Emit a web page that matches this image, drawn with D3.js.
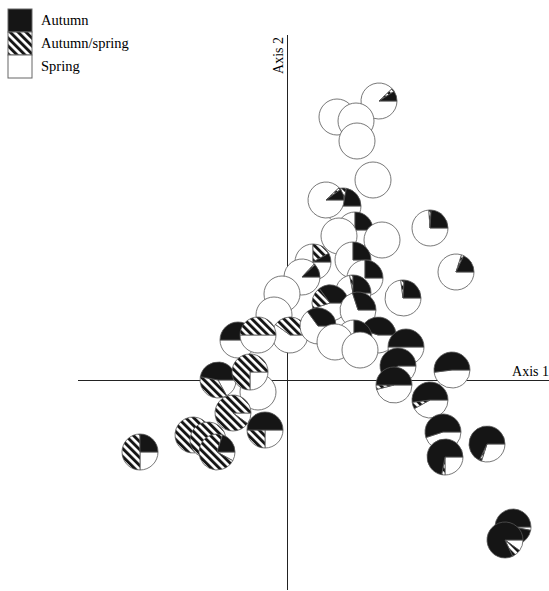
<!DOCTYPE html>
<meta charset="utf-8">
<style>

body {
  margin: 0;
  font-family: "Liberation Serif", "DejaVu Serif", serif;
  background: #fff;
}

svg {
	display: block;
}

path.slice {
	stroke: #555;
	stroke-width: 0.8px;
}

line.axis {
	stroke: #222;
	stroke-width: 1px;
}

</style>
<body>

<script src="https://d3js.org/d3.v7.min.js"></script>
<script>

// ordination scores of each site (axis 1, axis 2)
let axis1 = [0.92, 0.50, 0.69, 0.70, 0.86, 0.56, 0.39, 0.68, 0.52, 0.95,
	1.43, 1.69, 1.16, 0.26, 0.66, 0.78, 0.15, -0.05, 0.66, 0.43,
	0.71, -0.13, 0.03, 0.31, 0.91, 0.67, 0.48, 0.73, 1.19, 1.11,
	1.07, 1.65, 1.43, 1.56, 1.58, 2.00, 2.26, 2.18,
	-0.49, -0.29, -0.69, -0.29, -0.37, -0.54, -0.22, -0.94, -0.79, -0.70, -1.47];
let axis2 = [2.79, 2.63, 2.59, 2.39, 2.00, 1.74, 1.80, 1.50, 1.44, 1.40,
	1.52, 1.08, 0.82, 1.18, 1.20, 1.02, 1.03, 0.86, 0.87, 0.77,
	0.70, 0.65, 0.45, 0.54, 0.45, 0.42, 0.38, 0.30, 0.33, 0.14,
	-0.05, 0.10, -0.20, -0.52, -0.77, -0.64, -1.47, -1.60,
	0.40, 0.45, 0.00, -0.12, 0.08, -0.33, -0.50, -0.55, -0.60, -0.72, -0.72];

// share of sampled plants in each phenology class
let autumn = [0.09, 0, 0, 0, 0, 0.22, 0.10, 0.25, 0, 0,
	0.24, 0.18, 0.24, 0.08, 0.25, 0.25, 0.12, 0, 0.25, 0.35,
	0.30, 0, 0, 0.35, 0.45, 0.25, 0, 0, 0.50, 0.60,
	0.50, 0.52, 0.52, 0.55, 0.72, 0.68, 0.97, 0.82,
	0.50, 0, 0.47, 0, 0, 0, 0.50, 0, 0, 0.20, 0.25];
let autumnSpring = [0.03, 0, 0, 0, 0, 0.05, 0.02, 0, 0, 0,
	0.02, 0.02, 0.03, 0.17, 0, 0, 0.01, 0, 0.03, 0.20,
	0, 0, 0.40, 0, 0, 0, 0, 0, 0, 0,
	0.04, 0, 0.06, 0, 0.03, 0.02, 0, 0.08,
	0, 0.50, 0.36, 0, 0.75, 0.90, 0.25, 0.97, 0.95, 0.72, 0.50];
let spring = [0.88, 1, 1, 1, 1, 0.73, 0.88, 0.75, 1, 1,
	0.74, 0.80, 0.73, 0.75, 0.75, 0.75, 0.87, 1, 0.72, 0.45,
	0.70, 1, 0.60, 0.65, 0.55, 0.75, 1, 1, 0.50, 0.40,
	0.46, 0.48, 0.42, 0.45, 0.25, 0.30, 0.03, 0.10,
	0.50, 0.50, 0.17, 1, 0.25, 0.10, 0.25, 0.03, 0.05, 0.08, 0.25];

let classes = ["Autumn", "Autumn/spring", "Spring"];

let width = 549,
	height = 591,
	radius = 18;

let svg = d3.select("body")
	.append("svg")
	.attr("width", width)
	.attr("height", height);

let hatch = svg.append("defs")
	.append("pattern")
	.attr("id", "hatch")
	.attr("patternUnits", "userSpaceOnUse")
	.attr("width", 5.6)
	.attr("height", 5.6)
	.attr("patternTransform", "rotate(-45)");
hatch.append("rect")
	.attr("width", 5.6)
	.attr("height", 5.6)
	.attr("fill", "#fff");
hatch.append("rect")
	.attr("width", 2.9)
	.attr("height", 5.6)
	.attr("fill", "#151515");

let fill = d3.scaleOrdinal()
	.domain(classes)
	.range(["#151515", "url(#hatch)", "#fff"]);

let x = d3.scaleLinear()
	.domain([-2.09, 2.62])
	.range([78, 549]);

let y = d3.scaleLinear()
	.domain([-2.1, 3.45])
	.range([590, 35]);

/* ------- AXES -------*/
svg.append("line")
	.attr("class", "axis")
	.attr("x1", x(-2.09)).attr("x2", x(2.62))
	.attr("y1", y(0) + 0.5).attr("y2", y(0) + 0.5);

svg.append("line")
	.attr("class", "axis")
	.attr("x1", x(0) + 0.5).attr("x2", x(0) + 0.5)
	.attr("y1", y(3.45)).attr("y2", y(-2.1));

svg.append("text")
	.attr("x", x(2.62))
	.attr("y", y(0) - 4)
	.attr("text-anchor", "end")
	.style("font-size", "14px")
	.text("Axis 1");

svg.append("text")
	.attr("transform", "translate(" + (x(0) - 4) + "," + (y(3.45) + 2) + ") rotate(-90)")
	.attr("text-anchor", "end")
	.style("font-size", "14px")
	.text("Axis 2");

/* ------- PIES -------*/
let pie = d3.pie()
	.sort(null)
	.startAngle(Math.PI / 2)
	.endAngle(Math.PI / 2 + 2 * Math.PI)
	.value(function(d) { return d.value; });

let arc = d3.arc()
	.innerRadius(0)
	.outerRadius(radius);

let sites = axis1.map(function(a, i) {
	return {
		x: a,
		y: axis2[i],
		shares: [
			{ label: "Spring", value: spring[i] },
			{ label: "Autumn/spring", value: autumnSpring[i] },
			{ label: "Autumn", value: autumn[i] }
		]
	};
});

let site = svg.append("g")
	.attr("class", "sites")
	.selectAll("g")
	.data(sites)
	.enter()
	.append("g")
	.attr("transform", function(d) { return "translate(" + x(d.x) + "," + y(d.y) + ")"; });

site.selectAll("path.slice")
	.data(function(d) { return pie(d.shares).filter(function(s) { return s.data.value > 0; }); })
	.enter()
	.append("path")
	.attr("class", "slice")
	.attr("d", arc)
	.style("fill", function(d) { return fill(d.data.label); });

/* ------- LEGEND -------*/
let legend = svg.append("g")
	.attr("class", "legend")
	.selectAll("g")
	.data(classes)
	.enter()
	.append("g")
	.attr("transform", function(d, i) { return "translate(8," + (9 + i * 23) + ")"; });

legend.append("rect")
	.attr("width", 24)
	.attr("height", 23)
	.attr("fill", function(d) { return fill(d); })
	.attr("stroke", "#666")
	.attr("stroke-width", 1);

legend.append("text")
	.attr("x", 33)
	.attr("y", 16)
	.style("font-size", "14.5px")
	.text(function(d) { return d; });

</script>
</body>
